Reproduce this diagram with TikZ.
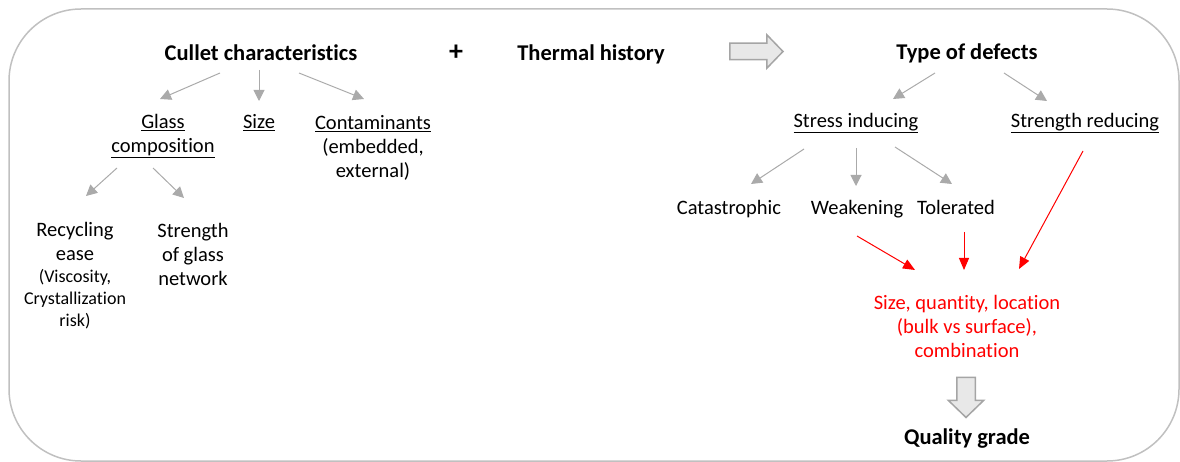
\documentclass[tikz,border=0pt]{standalone}
\usepackage{fontspec}
\setmainfont{Carlito}[Ligatures=CommonOff]
\usetikzlibrary{arrows.meta,shapes.arrows}
\definecolor{linegray}{RGB}{170,170,170}
\definecolor{framegray}{RGB}{192,192,192}
\definecolor{fillgray}{RGB}{232,232,232}
\definecolor{edgegray}{RGB}{165,165,165}
\newcommand{\smalltext}{\fontsize{18}{20}\selectfont}
\begin{document}
\begin{tikzpicture}[x=1pt, y=-1pt,
  every node/.style={inner sep=0pt, font=\fontsize{20.5}{24}\selectfont},
  oneline/.style={text height=16pt, text depth=2.5pt},
  headtext/.style={text height=18pt, text depth=0.5pt, font=\bfseries\fontsize{22.5}{24}\selectfont},
  itemtext/.style={align=center},
  greyarrow/.style={draw=linegray, line width=1pt, -{Triangle[length=11pt,width=11pt]}},
  redarrow/.style={draw=red, line width=1pt, -{Triangle[length=12pt,width=10pt]}},
  fatarrow/.style={single arrow, draw=edgegray, fill=fillgray, line width=1.5pt,
    inner xsep=0pt, single arrow head extend=8.5pt, single arrow tip angle=92}]
\useasboundingbox (0,0) rectangle (1180,462);
\draw[framegray, line width=1.5pt, rounded corners=72pt] (9,9) rectangle (1179,461);
% top row
\node[headtext] (cullet) at (261,52) {Cullet characteristics};
\node[headtext, font=\bfseries\fontsize{28}{24}\selectfont] (plus) at (456,52) {+};
\node[headtext] (thermal) at (591,52) {Thermal history};
\node[fatarrow, inner ysep=7.5pt, minimum height=53pt] (thermalarrow) at (752.5,51.5) {};
\node[headtext] (defects) at (967,51) {Type of defects};
% cullet branch
\node[itemtext] (glass) at (163,136.5) {\underline{Glass}\\\underline{composition}};
\node[oneline] (size) at (259,122) {\underline{Size}};
\node[itemtext] (contam) at (373,148) {\underline{Contaminants}\\(embedded,\\external)};
\node[itemtext] (recycling) at (75,276) {Recycling\\ease\\[-2pt]{\smalltext (Viscosity,}\\[-2pt]{\smalltext Crystallization}\\[-2pt]{\smalltext risk)}};
\node[itemtext] (network) at (193,254) {Strength\\of glass\\network};
\draw[greyarrow] ([shift={(-41,21)}]cullet.center) -- ([shift={(-3,-37.5)}]glass.center);
\draw[greyarrow] ([shift={(-2,18)}]cullet.center) -- ([shift={(0,-21)}]size.center);
\draw[greyarrow] ([shift={(38,21)}]cullet.center) -- ([shift={(-9,-49)}]contam.center);
\draw[greyarrow] ([shift={(-46,31.5)}]glass.center) -- ([shift={(11,-80)}]recycling.center);
\draw[greyarrow] ([shift={(-10,31.5)}]glass.center) -- ([shift={(-9,-56)}]network.center);
% defects branch
\node[oneline] (stress) at (856,121) {\underline{Stress inducing}};
\node[oneline] (reducing) at (1085,121) {\underline{Strength reducing}};
\node[oneline] (catastrophic) at (729,208) {Catastrophic};
\node[oneline] (weakening) at (857,208) {Weakening};
\node[oneline] (tolerated) at (956,208) {Tolerated};
\draw[greyarrow] ([shift={(-32,22)}]defects.center) -- ([shift={(37,-22)}]stress.center);
\draw[greyarrow] ([shift={(37,22)}]defects.center) -- ([shift={(-38,-20)}]reducing.center);
\draw[greyarrow] ([shift={(-52,28)}]stress.center) -- ([shift={(22,-24)}]catastrophic.center);
\draw[greyarrow] ([shift={(0,27)}]stress.center) -- ([shift={(-1,-22)}]weakening.center);
\draw[greyarrow] ([shift={(39,26)}]stress.center) -- ([shift={(-4,-24)}]tolerated.center);
% outcome
\node[itemtext, text=red] (measure) at (967,326) {Size, quantity, location\\(bulk vs surface),\\combination};
\draw[redarrow] ([shift={(0,28)}]weakening.center) -- ([shift={(-52,-56)}]measure.center);
\draw[redarrow] ([shift={(8,24)}]tolerated.center) -- ([shift={(-3,-56)}]measure.center);
\draw[redarrow] ([shift={(-2,30)}]reducing.center) -- ([shift={(52,-57)}]measure.center);
\node[fatarrow, inner ysep=8.5pt, minimum height=40pt, rotate=-90] (gradearrow) at (966,393) {};
\node[headtext] (quality) at (967,436) {Quality grade};
\end{tikzpicture}
\end{document}
